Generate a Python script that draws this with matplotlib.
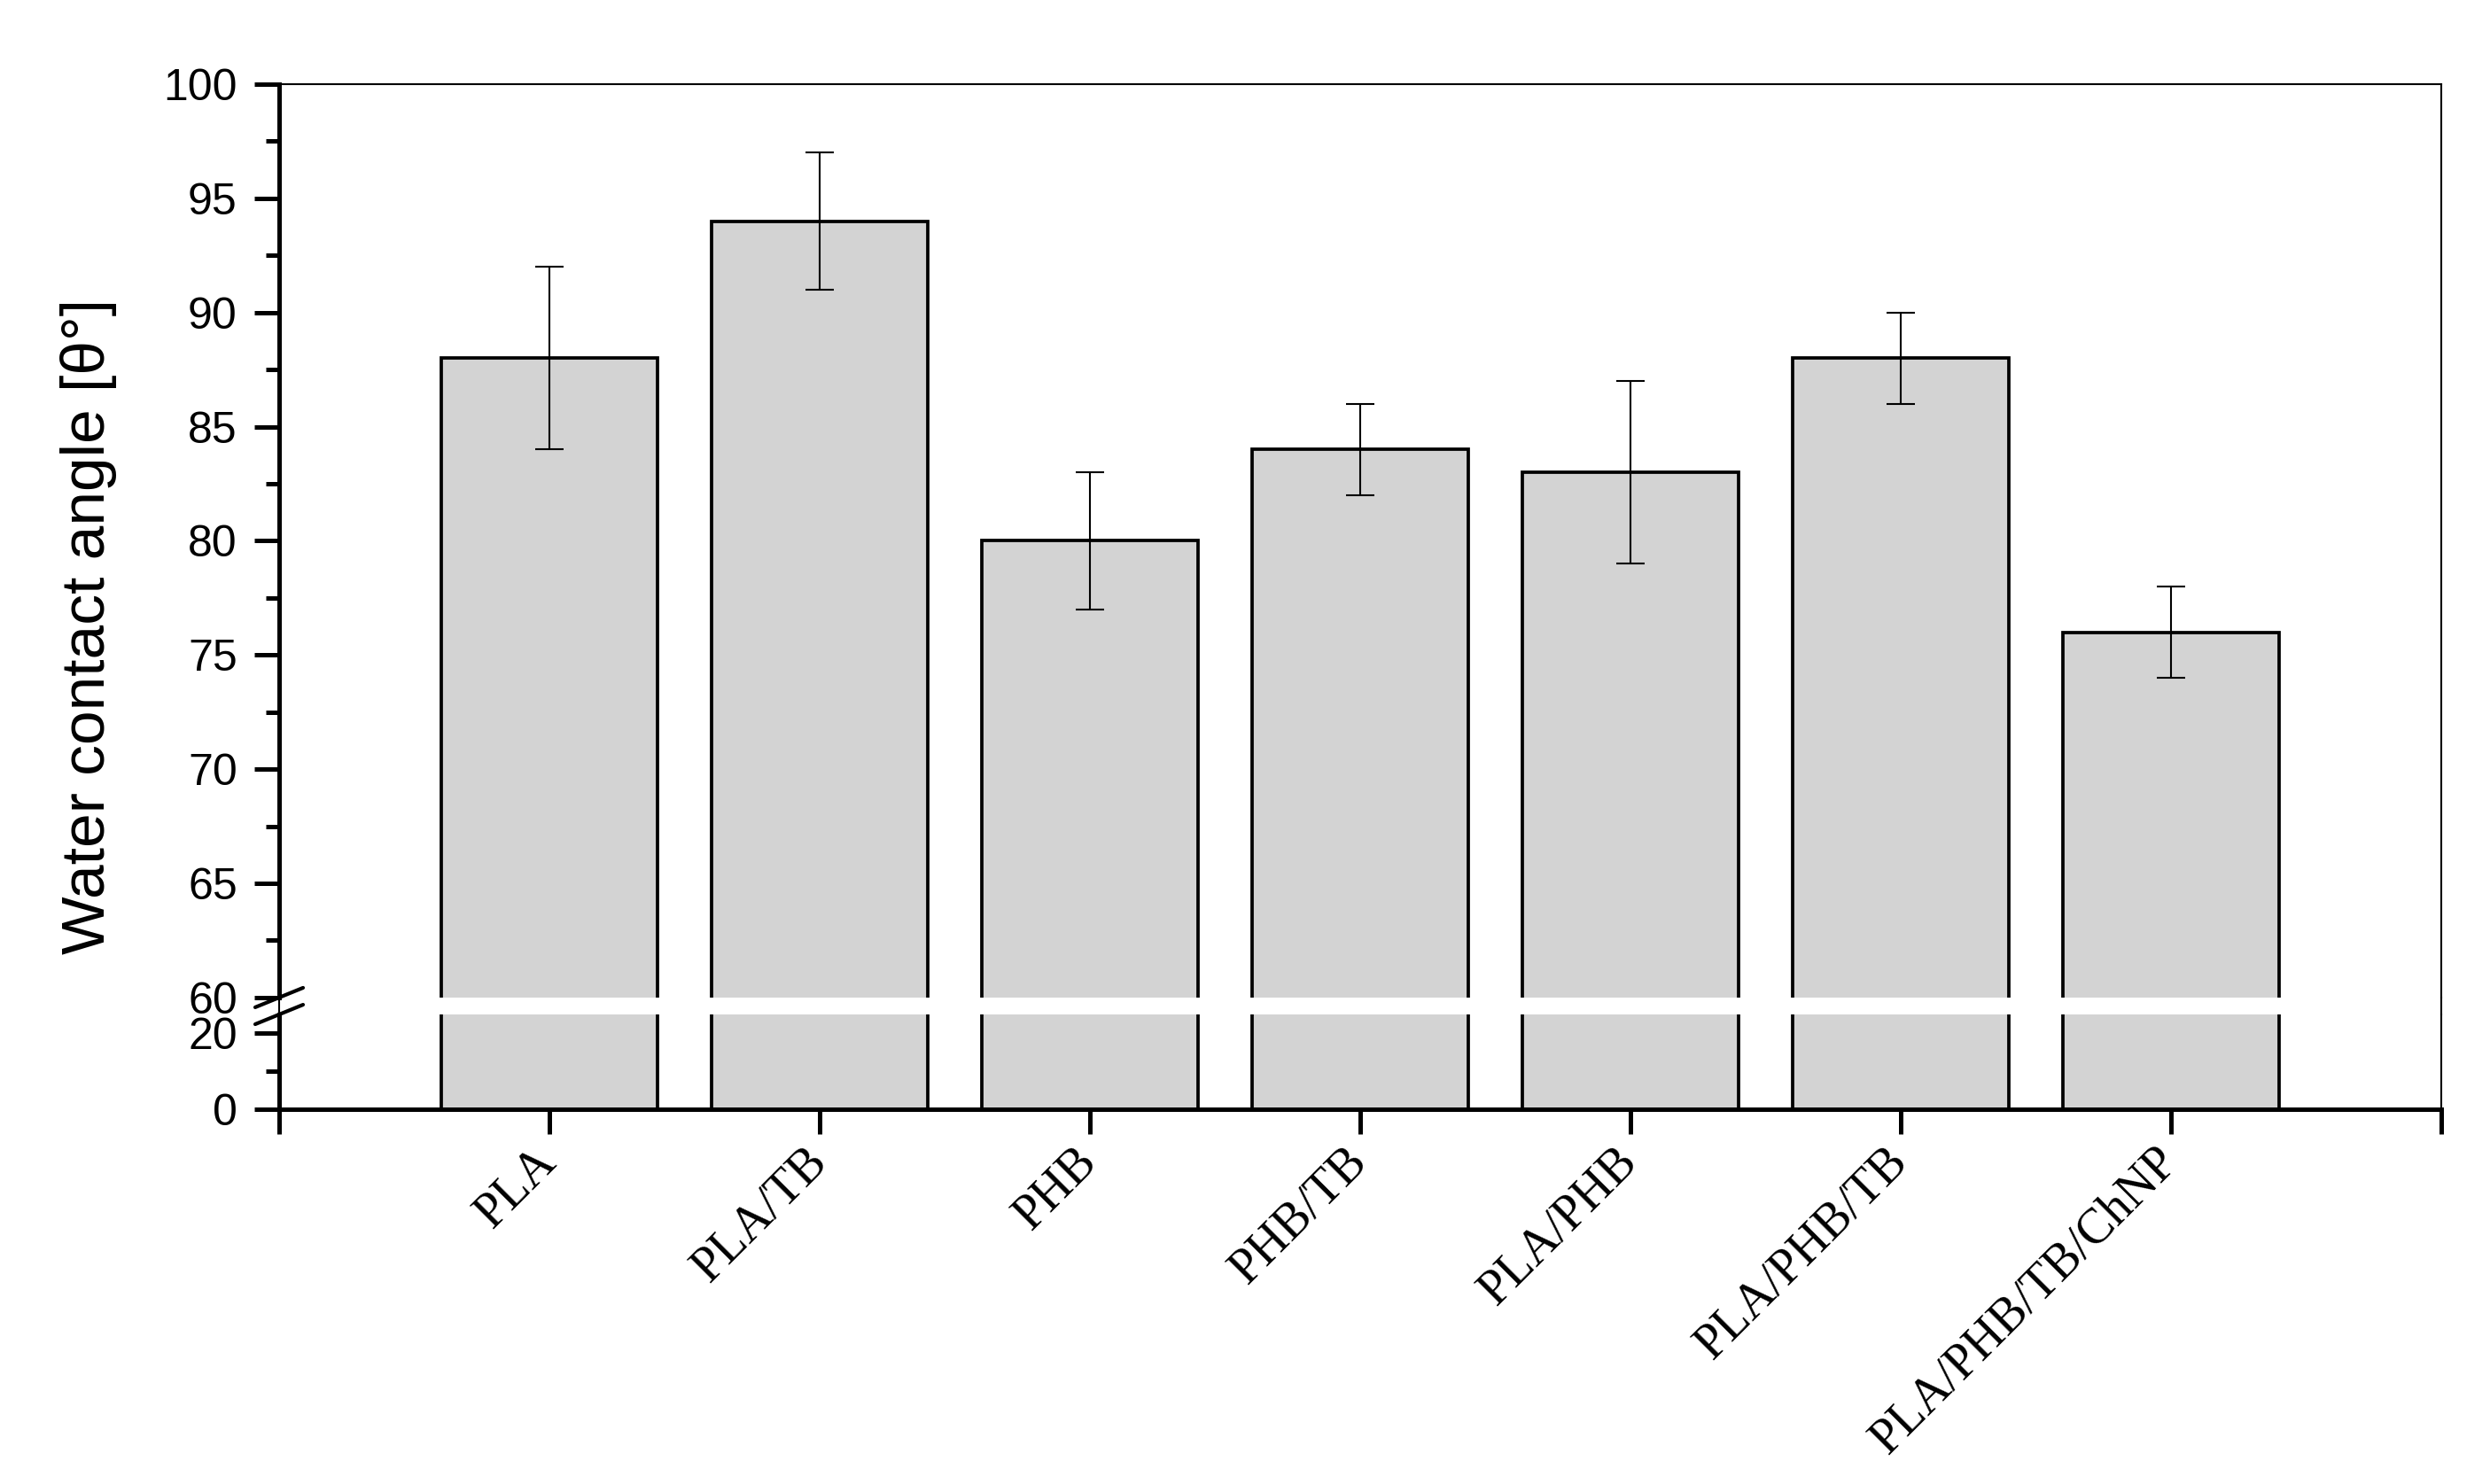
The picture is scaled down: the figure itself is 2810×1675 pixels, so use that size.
import numpy as np
import matplotlib.pyplot as plt
from matplotlib.lines import Line2D
from matplotlib.ticker import MultipleLocator, FixedLocator


# dados do grafico (angulo de contato com agua)
amostras = ['PLA', 'PLA/TB', 'PHB', 'PHB/TB', 'PLA/PHB', 'PLA/PHB/TB', 'PLA/PHB/TB/ChNP']
angulo = [88, 94, 80, 84, 83, 88, 76]
desvio = [4, 3, 3, 2, 4, 2, 2]

ticks_sup = [60, 65, 70, 75, 80, 85, 90, 95, 100]
ticks_inf = [0, 20]
minor_inf = [10]

cor_barra = '#d3d3d3'
lw_grosso = 3.6
lw_fino = 1.5

plt.rcParams['font.family'] = ['Liberation Sans', 'DejaVu Sans']

fig = plt.figure(figsize=(28.1, 16.75), dpi=100)

# eixo com quebra: parte de cima (60-100) e parte de baixo (0-25)
ax_sup = fig.add_axes([0.1121, 0.3278, 0.8683, 0.6155])
ax_inf = fig.add_axes([0.1121, 0.2525, 0.8683, 0.0639])

x = np.arange(1, len(amostras) + 1)

for ax in (ax_sup, ax_inf):
    ax.bar(x, angulo, width=0.8, color=cor_barra, edgecolor='black', linewidth=2.7, zorder=2)
    ax.set_xlim(0, len(amostras) + 1)

ax_sup.errorbar(x, angulo, yerr=desvio, fmt='none', ecolor='black',
                elinewidth=lw_fino, capsize=11.5, capthick=lw_fino, zorder=3)

ax_sup.set_ylim(60, 100)
ax_inf.set_ylim(0, 25)

# spines
ax_sup.spines['bottom'].set_visible(False)
ax_sup.spines['left'].set_linewidth(lw_grosso)
ax_sup.spines['top'].set_linewidth(lw_fino)
ax_sup.spines['right'].set_linewidth(lw_fino)
ax_inf.spines['top'].set_visible(False)
ax_inf.spines['left'].set_linewidth(lw_grosso)
ax_inf.spines['bottom'].set_linewidth(lw_grosso)
ax_inf.spines['right'].set_linewidth(lw_fino)

# ticks eixo y
ax_sup.yaxis.set_major_locator(FixedLocator(ticks_sup))
ax_sup.yaxis.set_minor_locator(MultipleLocator(2.5))
ax_inf.yaxis.set_major_locator(FixedLocator(ticks_inf))
ax_inf.yaxis.set_minor_locator(FixedLocator(minor_inf))
for ax in (ax_sup, ax_inf):
    ax.tick_params(axis='y', which='major', length=20, width=lw_grosso, direction='out',
                   labelsize=36, pad=14, right=False)
    ax.tick_params(axis='y', which='minor', length=11, width=lw_grosso, direction='out', right=False)

ax_sup.tick_params(axis='x', bottom=False, labelbottom=False)

# ticks eixo x
ax_inf.set_xticks(range(0, len(amostras) + 2))
ax_inf.set_xticklabels([''] + amostras + [''], rotation=45, ha='right', va='center',
                       rotation_mode='anchor', fontfamily='Liberation Serif', fontsize=40)
ax_inf.tick_params(axis='x', length=20, width=lw_grosso, direction='out', pad=17)

# ligacao das spines na quebra e marcas da quebra
p_sup = ax_sup.get_position()
p_inf = ax_inf.get_position()
fig.add_artist(Line2D([p_sup.x1, p_sup.x1], [p_inf.y1, p_sup.y0], color='black',
                      lw=lw_fino, transform=fig.transFigure))
fig.add_artist(Line2D([p_sup.x0, p_sup.x0], [p_inf.y1, p_sup.y0], color='black',
                      lw=lw_fino, transform=fig.transFigure))

dx = 27 / 2810
dy = 11 / 1675
for y0 in (p_sup.y0, p_inf.y1):
    fig.add_artist(Line2D([p_sup.x0 - dx, p_sup.x0 + dx], [y0 - dy, y0 + dy], color='black',
                          lw=3, transform=fig.transFigure, solid_capstyle='round'))

fig.text(0.0356, 0.578, 'Water contact angle [θ°]', rotation=90, ha='center', va='center',
         fontsize=50)

plt.savefig('out.png', dpi=100)
